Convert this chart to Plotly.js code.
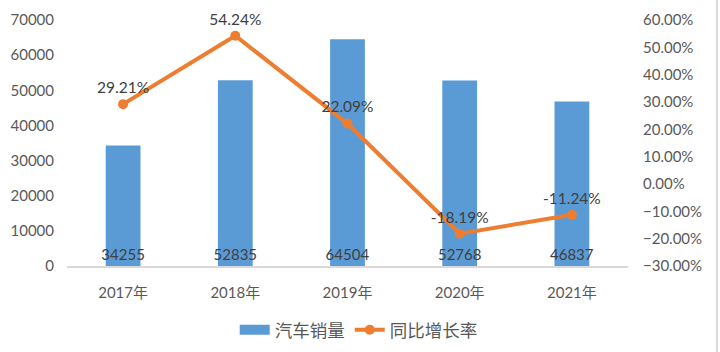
<!DOCTYPE html>
<html>
<head>
<meta charset="utf-8">
<script src="https://cdn.plot.ly/plotly-3.0.1.min.js"></script>
<style>html,body{margin:0;padding:0;background:#fff;}#chart{width:720px;height:352px;}</style>
</head>
<body>
<div id="chart"></div>
<script>
const years = ["2017年", "2018年", "2019年", "2020年", "2021年"];
const sales = [34255, 52835, 64504, 52768, 46837];
const growth = [29.21, 54.24, 22.09, -18.19, -11.24];
const seriesNames = ["汽车销量", "同比增长率"];

const FONT = "Lato, 'Noto Sans CJK SC', sans-serif";
const BLUE = "#5B9BD5";
const ORANGE = "#ED7D31";

const barTrace = {
  type: "bar",
  name: seriesNames[0],
  x: years,
  y: sales,
  marker: {color: BLUE},
  text: sales.map(String),
  textposition: "inside",
  insidetextanchor: "start",
  textangle: 0,
  constraintext: "none",
  insidetextfont: {color: "#404040", size: 15, family: FONT},
  showlegend: false,
  legendgroup: "bar"
};

// legend-only entry for the bars, drawn as a wide block like the reference (no visible marks)
const barLegend = {
  type: "scatter",
  mode: "lines",
  name: seriesNames[0],
  x: years,
  y: sales.map(() => null),
  line: {color: BLUE, width: 10},
  legendgroup: "bar",
  showlegend: true,
  hoverinfo: "skip"
};

const lineTrace = {
  type: "scatter",
  mode: "lines+markers+text",
  name: seriesNames[1],
  x: years,
  y: growth,
  yaxis: "y2",
  line: {color: ORANGE, width: 4},
  marker: {color: ORANGE, size: 10},
  text: growth.map(v => v.toFixed(2) + "%"),
  textposition: "top center",
  textfont: {color: "#404040", size: 15.5, family: FONT},
  cliponaxis: false
};

const layout = {
  width: 720,
  height: 352,
  margin: {l: 67, r: 92, t: 20, b: 86, autoexpand: false},
  paper_bgcolor: "#ffffff",
  plot_bgcolor: "#ffffff",
  font: {family: FONT, color: "#595959", size: 15},
  bargap: 0.69,
  showlegend: true,
  legend: {
    orientation: "h",
    x: 0.52, xanchor: "center",
    y: -0.26, yanchor: "middle",
    font: {size: 17.5, color: "#595959", family: FONT},
    traceorder: "normal"
  },
  xaxis: {
    type: "category",
    showgrid: false,
    showline: true,
    linecolor: "#d9d9d9",
    linewidth: 2,
    ticks: "",
    ticklabelstandoff: 12,
    tickfont: {size: 15, color: "#595959", family: FONT},
    zeroline: false
  },
  yaxis: {
    range: [0, 70000],
    dtick: 10000,
    showgrid: false,
    zeroline: false,
    showline: false,
    ticks: "",
    tickformat: "d",
    ticklabelstandoff: 12,
    tickfont: {size: 15, color: "#595959", family: FONT}
  },
  yaxis2: {
    overlaying: "y",
    side: "right",
    range: [-30, 60],
    dtick: 10,
    tickformat: ".2f",
    ticksuffix: "%",
    showgrid: false,
    zeroline: false,
    showline: false,
    ticks: "",
    ticklabelstandoff: 14,
    tickfont: {size: 15, color: "#595959", family: FONT}
  },
  shapes: [{
    type: "line", xref: "paper", yref: "paper",
    x0: 1.1586, x1: 1.1586, y0: -0.4, y1: 1.1,
    line: {color: "#d9d9d9", width: 2}
  }]
};

Plotly.newPlot("chart", [barTrace, barLegend, lineTrace], layout, {displayModeBar: false, staticPlot: true});
</script>
</body>
</html>
